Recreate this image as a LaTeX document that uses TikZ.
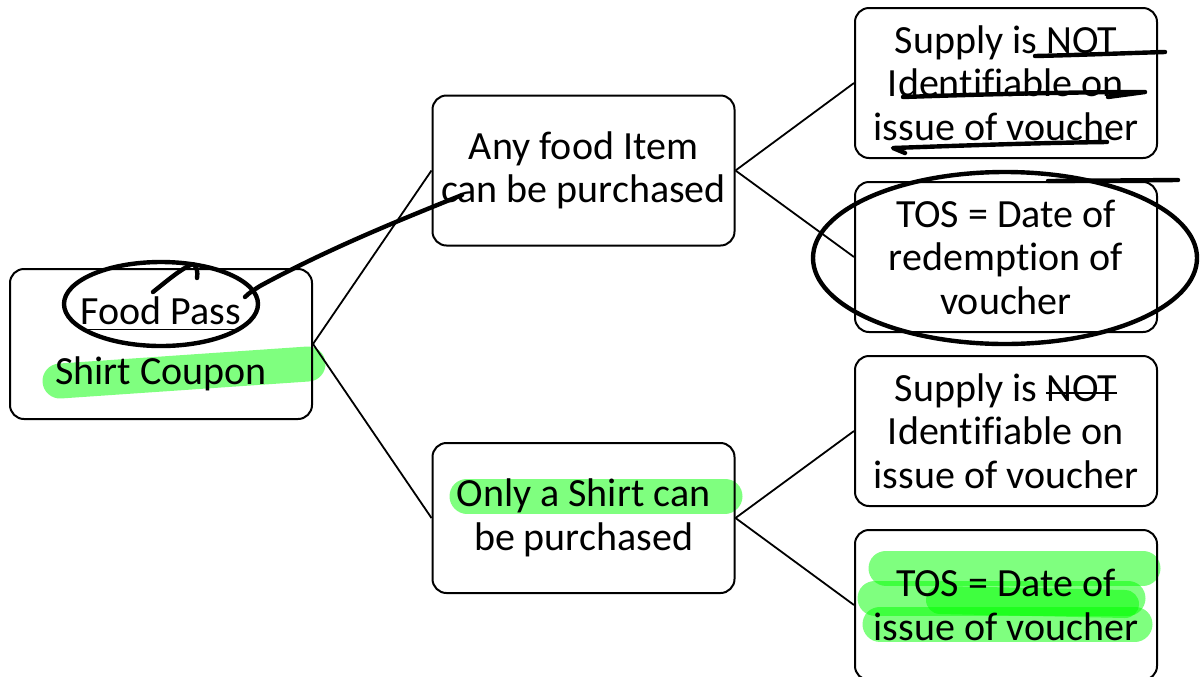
\documentclass[tikz,border=0pt]{standalone}
\usepackage{fontspec}
\setmainfont{Carlito}[Ligatures=NoCommon]
\definecolor{hlgreen}{RGB}{0,255,0}
\newcommand\strk[1]{\leavevmode\setbox0\hbox{#1}\rlap{\rule[3.8pt]{\wd0}{0.7pt}}\box0}
\newcommand\undl[1]{\leavevmode\setbox0\hbox{#1}\rlap{\rule[-3pt]{\wd0}{0.8pt}}\box0}
\begin{document}
\begin{tikzpicture}[x=0.5pt,y=-0.5pt,
  box/.style={draw,line width=1pt,rounded corners=7pt,minimum width=151pt,minimum height=75pt,align=center,inner sep=0pt,font=\fontsize{20}{21.75}\selectfont},
  link/.style={line width=0.9pt},
  ink/.style={line width=2.2pt,line cap=round,line join=round},
  hl/.style={draw=hlgreen,draw opacity=0.5,line cap=round,line width=17.5pt}]
\useasboundingbox (0,0) rectangle (1200,676);
% highlights
\draw[hl] (60,381) -- (308,364);
\draw[hl] (467,496) -- (725,496);
\draw[hl] (886,568) -- (1143,568);
\draw[hl] (875,598) -- (1128,598);
\draw[hl] (880,624) -- (1135,624);
\draw[hl,line width=14pt] (940,600) -- (1125,604);
% boxes
\node[box] (root) at (161,344) {\undl{Food Pass}\\[8.5pt]Shirt Coupon};
\node[box] (mtop) at (583.5,170.5) {Any food Item\\can be purchased};
\node[box] (mbot) at (583.5,518) {Only a Shirt can\\be purchased};
\node[box] (r1) at (1006,83) {Supply is NOT\\Identifiable on\\issue of voucher};
\node[box] (r2) at (1006,257) {TOS = Date of\\redemption of\\voucher};
\node[box] (r3) at (1006,431) {Supply is \strk{NOT}\\Identifiable on\\issue of voucher};
\node[box] (r4) at (1006,605) {TOS = Date of\\issue of voucher};
% connectors
\draw[link] (root.east) -- (mtop.west);
\draw[link] (root.east) -- (mbot.west);
\draw[link] (mtop.east) -- (r1.west);
\draw[link] (mtop.east) -- (r2.west);
\draw[link] (mbot.east) -- (r3.west);
\draw[link] (mbot.east) -- (r4.west);
% ink annotations
\draw[ink] (161,304) ellipse [x radius=97, y radius=42];
\draw[ink] (153,292) .. controls (168,280) and (182,268) .. (193,264) .. controls (197,267) and (198,272) .. (197,278);
\draw[ink] (245,297) .. controls (250,292) and (254,290) .. (260,286) .. controls (330,248) and (400,220) .. (462,195);
\draw[ink] (1035,56) .. controls (1080,55) and (1130,53) .. (1165,52);
\draw[ink] (903,97) .. controls (990,94) and (1080,92) .. (1145,92) -- (1108,97);
\draw[ink] (1107,142) .. controls (1030,143) and (950,146) .. (893,148) -- (905,153);
\draw[ink] (1005,258) ellipse [x radius=192, y radius=86];
\draw[ink] (1048,181) -- (1178,180);
\end{tikzpicture}
\end{document}
